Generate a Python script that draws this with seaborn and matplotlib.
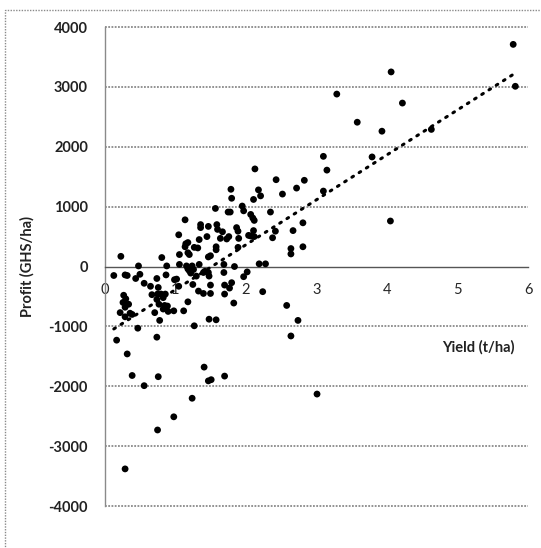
import numpy as np
import pandas as pd
import matplotlib.pyplot as plt
import matplotlib.patches as mpatches
import seaborn as sns

# yield (t/ha) and profit (GHS/ha), grouped by region
yield_t_ha = [
    5.79, 5.82, 4.06, 3.29, 4.22, 3.58, 3.93, 4.63, 3.79, 3.10, 3.15, 3.10, 4.05,
    2.13, 2.43, 2.83, 2.72, 2.52, 2.18, 2.21, 2.11, 1.79, 1.80, 1.57, 1.75, 1.78, 1.95, 1.97, 2.07, 2.10, 2.12, 2.35,
    1.14, 1.05, 1.36, 1.36, 1.47, 1.59, 1.60, 1.67, 1.64, 1.73, 1.76, 1.87, 1.89, 1.90, 1.45, 1.34, 1.15, 1.18, 1.14,
    1.32, 1.27, 1.58, 1.58, 1.89, 2.11, 2.12, 2.04, 2.07, 2.42, 2.38, 2.67, 2.64, 2.64, 2.81, 2.81, 1.47, 1.50,
    1.06, 1.20, 1.18, 0.81, 0.23, 1.06, 1.16, 1.24, 1.34, 1.69, 2.19, 2.28, 1.84, 0.88, 0.48,
    1.20, 1.18, 1.26, 1.30, 1.22, 0.13, 0.29, 0.32, 0.50, 0.44, 0.56, 0.87, 0.99, 1.02, 1.05, 0.74, 0.76,
    0.65, 0.67, 0.75, 0.80, 0.86, 0.83, 0.74, 0.77, 0.85, 0.89, 0.83, 0.90, 0.98, 0.71, 0.78, 1.12, 1.18,
    1.25, 1.33, 1.40, 1.42, 1.47, 1.48, 1.50, 1.50, 1.40, 1.69, 1.70, 1.70, 1.77, 1.80, 1.83, 1.97, 2.02,
    2.24, 2.58, 2.74, 2.64, 1.48, 1.58, 1.27, 0.47, 0.27, 0.30, 0.26, 0.34, 0.29, 0.22, 0.36, 0.29, 0.39,
    0.17, 0.74, 0.32, 0.39, 0.56, 0.76, 1.41, 1.47, 1.51, 1.70, 1.24, 0.98, 0.75, 0.29, 3.01,
]
profit_ghs_ha = [
    3710, 3010, 3250, 2880, 2730, 2410, 2260, 2290, 1830, 1840, 1610, 1260, 760,
    1630, 1450, 1440, 1310, 1210, 1280, 1180, 1120, 1290, 1140, 970, 910, 910, 1010, 930, 870, 810, 770, 910,
    780, 530, 700, 650, 670, 700, 620, 580, 470, 460, 500, 650, 590, 470, 500, 450, 380, 400, 330,
    310, 320, 330, 280, 320, 600, 500, 520, 510, 590, 480, 600, 300, 210, 730, 330, 160, 180,
    200, 200, 230, 150, 170, 35, 10, 10, 35, 35, 45, 45, 0, 10, 10,
    -70, -40, -50, -160, -110, -150, -140, -150, -130, -200, -280, -140, -220, -210, -330, -200, -350,
    -330, -470, -460, -460, -460, -520, -550, -630, -650, -660, -710, -750, -740, -770, -900, -740, -590,
    -300, -410, -450, -80, -100, -160, -310, -450, -100, -100, -310, -460, -360, -270, -610, -170, -90,
    -420, -650, -900, -1160, -880, -890, -990, -1030, -480, -540, -600, -630, -680, -770, -780, -840, -800,
    -1230, -1180, -1460, -1820, -1990, -1840, -1680, -1910, -1890, -1830, -2200, -2510, -2730, -3380, -2130,
]
x_ticks = [0, 1, 2, 3, 4, 5, 6]
y_ticks = [-4000, -3000, -2000, -1000, 0, 1000, 2000, 3000, 4000]

df = pd.DataFrame({'Yield': yield_t_ha, 'Profit': profit_ghs_ha})

sns.set_style('white')
plt.rcParams['font.family'] = ['Lato', 'DejaVu Sans']
plt.rcParams['axes.unicode_minus'] = False

fig = plt.figure(figsize=(5.41, 5.48), dpi=100)
ax = fig.add_axes([0.1934, 0.0766, 0.7826, 0.8741])

grid_col = '#8a8a8a'

# outer chart border
fig.patches.append(mpatches.Rectangle((0.0092, -0.1), 1.2, 1.0818, transform=fig.transFigure,
                                      fill=False, edgecolor=grid_col, linewidth=1.0,
                                      linestyle=(0, (1, 1))))

sns.scatterplot(data=df, x='Yield', y='Profit', color='black', s=24, edgecolor='none', ax=ax, zorder=3)

ax.set_xlim(0, 6)
ax.set_ylim(-4000, 4000)

# horizontal gridlines (zero line is the x axis itself)
grid_levels = [v for v in y_ticks if v != 0]
ax.hlines(grid_levels, 0, 6, colors=grid_col, linewidths=1.3, linestyles=[(0, (1, 0.8))],
          zorder=2.5, clip_on=False)

# linear trend line
slope, intercept = np.polyfit(df['Yield'], df['Profit'], 1)
xs = np.array([df['Yield'].min(), df['Yield'].max()])
ax.plot(xs, slope * xs + intercept, color='black', linewidth=2.2,
        linestyle=(0, (0.6, 2.2)), dash_capstyle='round', zorder=2.6)

ax.set_xticks(x_ticks)
ax.set_yticks(y_ticks)
ax.tick_params(length=0, labelsize=10.5)
ax.tick_params(axis='x', pad=12)
ax.tick_params(axis='y', pad=12)
for lab in ax.get_xticklabels() + ax.get_yticklabels():
    lab.set_fontweight('bold')
    lab.set_color('#222222')

ax.spines['bottom'].set_position(('data', 0))
ax.spines['bottom'].set_color('#555555')
ax.spines['bottom'].set_linewidth(1.0)
ax.spines['left'].set_color(grid_col)
ax.spines['left'].set_linewidth(1.0)
ax.spines['left'].set_linestyle((0, (1, 1)))
ax.spines['right'].set_visible(False)
ax.spines['top'].set_visible(False)

ax.set_xlabel('')
ax.set_ylabel('Profit (GHS/ha)', fontsize=10.5, fontweight='bold', color='#222222', labelpad=10)
ax.text(0.882, 0.332, 'Yield (t/ha)', transform=ax.transAxes, ha='center', va='center',
        fontsize=10.5, fontweight='bold', color='#222222')

fig.savefig('out.png', dpi=100)
